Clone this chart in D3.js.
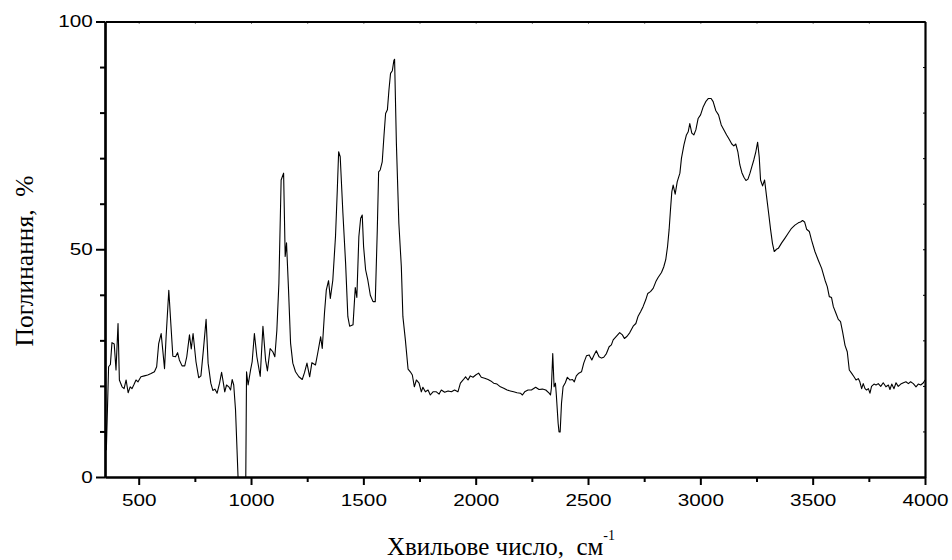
<!DOCTYPE html>
<html>
<head>
<meta charset="utf-8">
<script src="https://cdn.jsdelivr.net/npm/d3@7"></script>
<style>
  body { margin: 0; background: #fff; }
  .tick text { font-family: "Liberation Sans", Arial, sans-serif; }
  .title { font-family: "Liberation Serif", "Times New Roman", serif; white-space: pre; }
</style>
</head>
<body>
<svg id="chart"></svg>
<script>
// wavenumber (cm-1) and absorption (%)
const waveNumbers = [352, 356, 366, 374, 381, 391, 399, 408, 414, 426, 435, 444, 453, 462, 470, 479, 488, 497, 510, 525, 540, 555, 570, 580, 589, 600, 607, 615, 622, 634, 643, 652, 664, 673, 681, 693, 705, 714, 726, 734, 742, 755, 767, 777, 788, 800, 809, 821, 830, 839, 849, 860, 869, 877, 883, 891, 901, 909, 916, 923, 931, 946, 976, 980, 987, 998, 1005, 1015, 1026, 1041, 1053, 1065, 1073, 1085, 1097, 1106, 1115, 1124, 1134, 1145, 1152, 1158, 1167, 1176, 1186, 1198, 1213, 1228, 1238, 1249, 1261, 1271, 1287, 1298, 1310, 1317, 1327, 1335, 1345, 1353, 1364, 1376, 1384, 1390, 1397, 1409, 1421, 1431, 1439, 1454, 1464, 1471, 1480, 1488, 1495, 1501, 1510, 1520, 1531, 1543, 1553, 1562, 1568, 1575, 1584, 1592, 1599, 1607, 1614, 1621, 1629, 1636, 1639, 1647, 1658, 1669, 1676, 1687, 1699, 1709, 1718, 1727, 1736, 1748, 1758, 1765, 1776, 1788, 1798, 1810, 1825, 1837, 1847, 1862, 1877, 1892, 1906, 1921, 1932, 1944, 1955, 1966, 1976, 1988, 2000, 2013, 2025, 2040, 2055, 2067, 2080, 2095, 2110, 2125, 2140, 2154, 2169, 2184, 2199, 2208, 2218, 2233, 2248, 2267, 2282, 2297, 2312, 2327, 2333, 2337, 2343, 2349, 2355, 2359, 2367, 2371, 2376, 2382, 2389, 2399, 2408, 2419, 2431, 2439, 2448, 2459, 2471, 2481, 2493, 2505, 2517, 2527, 2537, 2549, 2560, 2570, 2582, 2594, 2604, 2612, 2625, 2641, 2653, 2662, 2674, 2686, 2701, 2713, 2723, 2734, 2745, 2757, 2766, 2778, 2790, 2802, 2812, 2827, 2837, 2846, 2854, 2861, 2867, 2873, 2879, 2888, 2897, 2909, 2916, 2927, 2938, 2946, 2953, 2962, 2971, 2980, 2990, 3001, 3013, 3024, 3036, 3048, 3057, 3069, 3081, 3093, 3105, 3117, 3129, 3140, 3149, 3158, 3167, 3176, 3185, 3194, 3203, 3212, 3221, 3229, 3238, 3247, 3255, 3262, 3268, 3277, 3286, 3295, 3304, 3313, 3321, 3329, 3339, 3347, 3362, 3376, 3391, 3406, 3421, 3436, 3446, 3455, 3464, 3473, 3485, 3495, 3510, 3525, 3540, 3555, 3565, 3574, 3584, 3592, 3604, 3614, 3624, 3633, 3644, 3654, 3663, 3673, 3684, 3693, 3703, 3710, 3718, 3725, 3733, 3740, 3748, 3755, 3762, 3773, 3782, 3792, 3803, 3814, 3826, 3837, 3844, 3852, 3862, 3871, 3881, 3892, 3904, 3915, 3926, 3936, 3948, 3960, 3970, 3981, 3993, 4000];
const absorption = [14, 6, 24.2, 24.7, 29.5, 29.2, 23.5, 33.7, 21.3, 19.8, 19.4, 21.3, 18.5, 19.8, 19.4, 20.3, 21.3, 20.9, 22.0, 22.2, 22.4, 22.7, 23.1, 24.2, 29.3, 31.5, 27.9, 23.8, 30.8, 41.0, 33.7, 26.5, 26.4, 27.3, 25.7, 24.4, 24.4, 26.4, 31.2, 28.1, 31.5, 25.3, 21.8, 22.2, 27.9, 34.6, 25.0, 20.6, 19.0, 19.3, 18.4, 20.6, 23.0, 20.6, 18.7, 20.2, 19.8, 19.1, 21.4, 20.2, 14.7, -5, -5, 23.1, 20.2, 23.5, 25.3, 31.5, 26.4, 22.1, 33.1, 25.6, 23.3, 28.2, 27.5, 26.4, 32.2, 42.5, 65.2, 66.7, 48.4, 51.4, 41.0, 29.4, 25.0, 23.1, 22.0, 21.4, 22.9, 25.0, 22.0, 25.1, 24.6, 27.5, 30.8, 28.2, 36.0, 41.0, 43.1, 39.2, 43.2, 52.8, 63.0, 71.4, 70.3, 57.9, 46.9, 35.2, 33.1, 33.4, 41.6, 39.4, 52.8, 56.8, 57.5, 50.6, 45.5, 43.2, 39.9, 38.5, 38.5, 54.2, 67.0, 67.4, 69.2, 75.1, 79.8, 80.6, 85.0, 88.6, 89.2, 91.5, 91.7, 73.3, 55.7, 46.2, 35.2, 30.1, 23.7, 23.1, 22.4, 19.8, 21.3, 20.6, 18.7, 19.7, 18.7, 19.1, 18.0, 18.7, 18.7, 18.2, 19.1, 18.6, 18.9, 18.7, 19.1, 18.7, 20.6, 21.3, 22.0, 21.3, 22.2, 21.9, 22.4, 22.8, 21.9, 21.7, 21.4, 21.1, 20.6, 20.4, 19.8, 19.5, 19.1, 18.9, 18.7, 18.5, 18.4, 18.0, 18.7, 19.1, 19.1, 19.7, 19.2, 19.3, 19.1, 18.4, 18.0, 19.5, 27.1, 19.8, 20.6, 18.0, 11.8, 9.9, 9.9, 16.2, 19.8, 20.7, 21.9, 21.3, 21.4, 20.9, 22.2, 22.8, 23.1, 25.0, 26.6, 26.8, 25.7, 26.8, 27.7, 26.4, 26.1, 26.3, 27.1, 28.6, 29.0, 30.1, 30.8, 31.7, 31.2, 30.4, 30.9, 31.7, 33.1, 33.7, 35.3, 36.3, 37.4, 38.9, 40.3, 40.7, 41.4, 42.9, 43.8, 44.9, 46.1, 47.7, 50.6, 54.3, 58.6, 62.6, 64.1, 62.1, 64.8, 66.7, 70.0, 72.9, 75.1, 75.8, 77.6, 75.5, 75.1, 76.2, 78.7, 79.5, 81.3, 82.4, 83.1, 83.1, 82.4, 80.4, 79.5, 77.3, 76.2, 75.1, 74.1, 73.1, 72.7, 73.1, 71.4, 68.5, 66.8, 65.8, 65.1, 65.4, 66.7, 68.1, 69.6, 71.4, 73.5, 70.3, 65.2, 63.9, 65.2, 61.5, 57.9, 54.2, 51.3, 49.5, 50.0, 50.2, 51.4, 52.4, 53.5, 54.6, 55.3, 55.8, 56.0, 56.3, 56.0, 54.4, 53.9, 52.0, 49.5, 47.6, 45.8, 43.2, 41.8, 39.6, 39.4, 37.4, 35.9, 34.6, 34.1, 31.9, 28.9, 27.5, 23.5, 22.8, 22.0, 21.3, 21.6, 20.9, 19.4, 20.5, 19.4, 19.1, 19.4, 18.4, 19.9, 20.4, 20.2, 20.5, 19.9, 20.7, 19.8, 20.2, 19.2, 20.4, 19.4, 20.7, 19.9, 20.4, 20.7, 20.9, 20.5, 20.9, 20.5, 19.8, 20.4, 20.2, 20.7, 21.3];

const xMajor = [500, 1000, 1500, 2000, 2500, 3000, 3500, 4000];
const xMinor = [750, 1250, 1750, 2250, 2750, 3250, 3750];
const yMajor = [0, 50, 100];
const yMinor = [10, 20, 30, 40, 60, 70, 80, 90];

const w = 952;
const h = 560;
const plotLeft = 105;
const plotRight = 925;
const plotTop = 21.5;
const plotBottom = 477;
const stretch = 1.22; // tick digits are wider than plain Arial

const svg = d3.select("#chart").attr("width", w).attr("height", h);

const x = d3.scaleLinear().domain([350, 4000]).range([plotLeft, plotRight]);
const y = d3.scaleLinear().domain([0, 100]).range([plotBottom, plotTop]);

svg.append("defs").append("clipPath").attr("id", "plot")
  .append("rect")
  .attr("x", plotLeft).attr("y", plotTop)
  .attr("width", plotRight - plotLeft).attr("height", plotBottom - plotTop);

const points = waveNumbers.map((d, i) => [d, absorption[i]]);

svg.append("path")
  .datum(points)
  .attr("clip-path", "url(#plot)")
  .attr("fill", "none")
  .attr("stroke", "#000")
  .attr("stroke-width", 1.1)
  .attr("stroke-linejoin", "round")
  .attr("d", d3.line().x(d => x(d[0])).y(d => y(d[1])));

const styleAxis = (g) => {
  g.select(".domain").attr("stroke-width", 2.2);
  g.selectAll(".tick line").attr("stroke-width", 2);
};

// bottom
svg.append("g")
  .attr("transform", `translate(0,${plotBottom})`)
  .call(d3.axisBottom(x).tickValues(xMinor).tickSize(5).tickFormat("").tickSizeOuter(0))
  .call(styleAxis);
const xAxisG = svg.append("g")
  .attr("transform", `translate(0,${plotBottom})`)
  .call(d3.axisBottom(x).tickValues(xMajor).tickSize(8).tickSizeOuter(0).tickPadding(9).tickFormat(d3.format("d")))
  .call(styleAxis);
xAxisG.selectAll(".tick text")
  .attr("font-size", 17)
  .attr("fill", "#000")
  .attr("transform", `scale(${stretch},1)`);

// left
svg.append("g")
  .attr("transform", `translate(${plotLeft},0)`)
  .call(d3.axisLeft(y).tickValues(yMinor).tickSize(5).tickFormat("").tickSizeOuter(0))
  .call(styleAxis);
const yAxisG = svg.append("g")
  .attr("transform", `translate(${plotLeft},0)`)
  .call(d3.axisLeft(y).tickValues(yMajor).tickSize(9).tickSizeOuter(0).tickPadding(1).tickFormat(d3.format("d")))
  .call(styleAxis);
yAxisG.selectAll(".tick text")
  .attr("font-size", 17)
  .attr("fill", "#000")
  .attr("transform", `scale(${stretch},1)`);

// top and right, small inner ticks
svg.append("g")
  .attr("transform", `translate(0,${plotTop})`)
  .call(d3.axisTop(x).tickValues(xMajor.concat(xMinor)).tickSize(-2).tickFormat("").tickSizeOuter(0))
  .call(styleAxis)
  .call(g => g.selectAll(".tick line").attr("stroke-width", 1));
svg.append("g")
  .attr("transform", `translate(${plotRight},0)`)
  .call(d3.axisRight(y).tickValues(yMajor.concat(yMinor)).tickSize(-2).tickFormat("").tickSizeOuter(0))
  .call(styleAxis)
  .call(g => g.selectAll(".tick line").attr("stroke-width", 1));

// axis titles
const xTitle = svg.append("text")
  .attr("class", "title")
  .attr("font-size", 25)
  .attr("x", 387)
  .attr("y", 555);
xTitle.append("tspan").text("Хвильове число,  см");
xTitle.append("tspan").attr("font-size", 14).attr("dy", -15).text("-1");

svg.append("text")
  .attr("class", "title")
  .attr("font-size", 25.5)
  .attr("text-anchor", "middle")
  .attr("transform", "translate(33,261) rotate(-90)")
  .text("Поглинання,  %");
</script>
</body>
</html>
